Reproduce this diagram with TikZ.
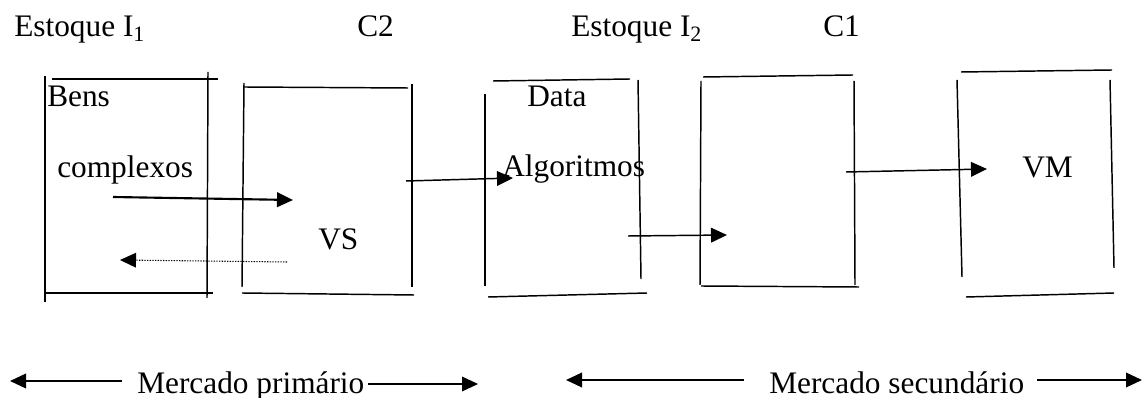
\documentclass[tikz,border=0pt]{standalone}
\usepackage{fontspec}
\setmainfont{Liberation Serif}
\usetikzlibrary{arrows.meta}

\begin{document}
\begin{tikzpicture}[x=0.75pt, y=-0.75pt, font=\fontsize{23.5}{28}\selectfont, t/.style={anchor=base west, inner sep=0pt}, s/.style={line width=1.1pt}, a/.style={line width=1.1pt, -{Triangle[length=12pt, width=11pt]}}, b/.style={a, line width=1.6pt}, d/.style={a, line width=0.8pt, dash pattern=on 1pt off 1pt}]
		\useasboundingbox (0,0) rectangle (1144,398);

		\node[t] (EI1) at (14,37) {Estoque I\textsubscript{1}};
		\node[t] (C2) at (357,37) {C2};
		\node[t] (EI2) at (571,37) {Estoque I\textsubscript{2}};
		\node[t] (C1) at (823,37) {C1};
		\node[t] (Bens) at (47,107) {Bens};
		\node[t] (Compl) at (57,178) {complexos};
		\node[t] (VS) at (318,250) {VS};
		\node[t] (Data) at (527,107) {Data};
		\node[t] (Alg) at (502,177) {Algoritmos};
		\node[t] (VM) at (1022,178) {VM};
		\node[t] (MP) at (137,393) {Mercado primário};
		\node[t] (MS) at (769,393) {Mercado secundário};

		\draw[s] (45,76) -- (45,302);
		\draw[s] (52,79) -- (218,79);
		\draw[s] (208,72) -- (207,298);
		\draw[s] (45,293) -- (213,293);

		\draw[s] (244,83) -- (242,287);
		\draw[s] (244,87) -- (408,88);
		\draw[s] (412,84) -- (412,287);
		\draw[s] (242,293) -- (414,295);

		\draw[s] (485,94) -- (485,286);
		\draw[s] (493,81) -- (630,79);
		\draw[s] (638,80) -- (641,279);
		\draw[s] (488,297) -- (647,293);

		\draw[s] (701,81) -- (700,285);
		\draw[s] (703,77) -- (853,75);
		\draw[s] (854,81) -- (855,285);
		\draw[s] (701,286) -- (859,287);

		\draw[s] (957,80) -- (962,277);
		\draw[s] (961,72) -- (1112,70);
		\draw[s] (1110,80) -- (1114,268);
		\draw[s] (966,297) -- (1114,293);

		\coordinate (I1out) at (113,197);
		\coordinate (C2in) at (293,200);
		\coordinate (C2back) at (287,262);
		\coordinate (I1in) at (120,260);
		\coordinate (C2out) at (406,181);
		\coordinate (I2in) at (513,178);
		\coordinate (I2out) at (628,236);
		\coordinate (C1in) at (727,235);
		\coordinate (C1out) at (846,172);
		\coordinate (VMin) at (987,169);
		\coordinate (MPl) at (122,381);
		\coordinate (MPlt) at (10,381);
		\coordinate (MPr) at (368,384);
		\coordinate (MPrt) at (478,384);
		\coordinate (MSl) at (744,380);
		\coordinate (MSlt) at (566,380);
		\coordinate (MSr) at (1037,380);
		\coordinate (MSrt) at (1142,380);

		\draw[b] (I1out) -- (C2in);
		\draw[d] (C2back) -- (I1in);
		\draw[a] (C2out) -- (I2in);
		\draw[a] (I2out) -- (C1in);
		\draw[a] (C1out) -- (VMin);
		\draw[a] (MPl) -- (MPlt);
		\draw[a] (MPr) -- (MPrt);
		\draw[a] (MSl) -- (MSlt);
		\draw[a] (MSr) -- (MSrt);
	\end{tikzpicture}
\end{document}
